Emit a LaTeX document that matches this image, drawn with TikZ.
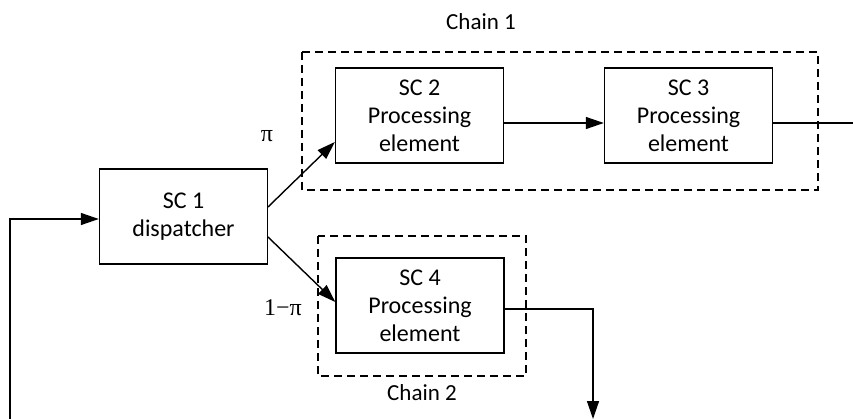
\documentclass[tikz,border=0pt]{standalone}
\usepackage{fontspec}
\setmainfont{Carlito}
\newfontfamily\serifpi{Liberation Serif}
\usetikzlibrary{arrows.meta}
\begin{document}
\begin{tikzpicture}[x=1pt,y=-1pt,
  blk/.style={draw,line width=1.4pt,minimum width=168pt,minimum height=95pt,inner sep=0pt,align=center,font=\fontsize{24}{28}\selectfont},
  chainbox/.style={draw,line width=1.4pt,dash pattern=on 8pt off 5pt},
  conn/.style={line width=1.4pt,-{Triangle[length=18pt,width=12pt]}},
  plain/.style={line width=1.4pt},
  lbl/.style={font=\fontsize{23}{27}\selectfont},
  prob/.style={font=\serifpi\fontsize{24}{28}\selectfont}]
\useasboundingbox (0,0) rectangle (853,419);
\draw[chainbox] (302,52) rectangle (818,190);
\draw[chainbox] (318,236) rectangle (526,376);
\node[lbl] (c1) at (481,22) {Chain 1};
\node[lbl] (c2) at (422,393) {Chain 2};
\node[blk] (sc1) at (183.5,216.5) {SC 1\\dispatcher};
\node[blk] (sc2) at (419.5,115.5) {SC 2\\Processing\\element};
\node[blk] (sc3) at (688.5,115.5) {SC 3\\Processing\\element};
\node[blk] (sc4) at (420,305.5) {SC 4\\Processing\\element};
\node[prob] (pi) at (267,136) {π};
\node[prob] (opi) at (283,308) {1−π};
\coordinate (fb) at (10,419);
\coordinate (fbc) at (10,219);
\coordinate (out3) at (853,123);
\coordinate (c4r) at (593,309);
\coordinate (out4) at (593,419);
\draw[conn] (fb) -- (fbc) -- (sc1.west |- fbc);
\draw[conn] (268,207) -- (sc2.west |- 0,142);
\draw[conn] (268,237) -- (sc4.west |- 0,302);
\draw[conn] (sc2.east |- 0,123) -- (sc3.west |- 0,123);
\draw[plain] (sc3.east |- out3) -- (out3);
\draw[conn] (sc4.east |- c4r) -- (c4r) -- (out4);
\end{tikzpicture}
\end{document}
